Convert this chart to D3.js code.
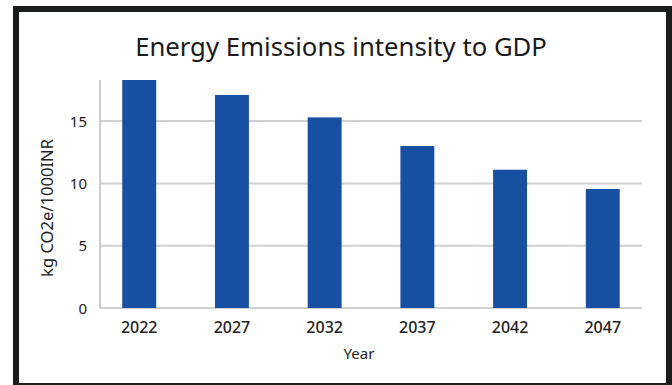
<!DOCTYPE html>
<html>
<head>
<meta charset="utf-8">
<script src="https://cdn.jsdelivr.net/npm/d3@7"></script>
<style>
  html, body { margin: 0; padding: 0; background: #fff; }
  svg { display: block; font-family: "Noto Sans", "Lato", sans-serif; }
  .grid line { stroke: #d0d0d0; stroke-width: 2; }
  .tick-label { fill: #222; }
</style>
</head>
<body>
<div id="chart"></div>
<script>
// Chart data
const years = ['2022', '2027', '2032', '2037', '2042', '2047'];
const intensity = [18.3, 17.1, 15.3, 13.0, 11.1, 9.55];
const yTicks = [0, 5, 10, 15];

const width = 672;
const height = 385;
const plot = { left: 100, right: 642, top: 80, bottom: 308 };

const svg = d3.select('#chart').append('svg')
  .attr('width', width)
  .attr('height', height);

// scale a text's font size so that it spans about the given width
function fitWidth(sel, target) {
  const node = sel.node();
  const size = parseFloat(sel.attr('font-size'));
  const len = node.getComputedTextLength();
  if (len > 0) sel.attr('font-size', (size * target / len).toFixed(2));
  return sel;
}

// Frame
svg.append('rect')
  .attr('x', 16)
  .attr('y', 9)
  .attr('width', 653)
  .attr('height', 377)
  .attr('fill', '#fff')
  .attr('stroke', '#1b1c1c')
  .attr('stroke-width', 6);

const x = d3.scaleBand()
  .domain(years)
  .range([plot.left, plot.right])
  .paddingInner(0.634)
  .paddingOuter(0.24);

const y = d3.scaleLinear()
  .domain([0, d3.max(intensity)])
  .range([plot.bottom, plot.top]);

// Gridlines
const grid = svg.append('g').attr('class', 'grid');
grid.selectAll('line')
  .data(yTicks)
  .enter()
  .append('line')
  .attr('x1', plot.left)
  .attr('x2', plot.right)
  .attr('y1', d => y(d))
  .attr('y2', d => y(d));

// Left axis line
svg.append('line')
  .attr('x1', plot.left)
  .attr('x2', plot.left)
  .attr('y1', y(d3.max(intensity)))
  .attr('y2', plot.bottom + 1)
  .attr('stroke', '#cccccc')
  .attr('stroke-width', 2);

// Bars
svg.selectAll('.bar')
  .data(intensity)
  .enter()
  .append('rect')
  .attr('class', 'bar')
  .attr('x', (d, i) => x(years[i]))
  .attr('y', d => y(d))
  .attr('width', x.bandwidth())
  .attr('height', d => y(0) - y(d))
  .attr('fill', '#1750a2');

// Y tick labels
svg.selectAll('.ylabel')
  .data(yTicks)
  .enter()
  .append('text')
  .attr('class', 'tick-label')
  .attr('x', 87)
  .attr('y', d => y(d) + 5.5)
  .attr('text-anchor', 'end')
  .attr('font-size', 15)
  .text(d => d);

// X tick labels
svg.selectAll('.xlabel')
  .data(years)
  .enter()
  .append('text')
  .attr('class', 'tick-label')
  .attr('x', d => x(d) + x.bandwidth() / 2)
  .attr('y', 333)
  .attr('text-anchor', 'middle')
  .attr('font-size', 16)
  .attr('font-weight', 500)
  .text(d => d);

// Axis titles
fitWidth(svg.append('text')
  .attr('x', 359)
  .attr('y', 359)
  .attr('text-anchor', 'middle')
  .attr('font-size', 14)
  .attr('fill', '#222')
  .text('Year'), 31);

fitWidth(svg.append('text')
  .attr('transform', 'translate(53, 208) rotate(-90)')
  .attr('text-anchor', 'middle')
  .attr('font-size', 14)
  .attr('fill', '#222')
  .text('kg CO2e/1000INR'), 138);

// Title
fitWidth(svg.append('text')
  .attr('x', 341)
  .attr('y', 56)
  .attr('text-anchor', 'middle')
  .attr('font-size', 25)
  .attr('fill', '#1a1a1a')
  .text('Energy Emissions intensity to GDP'), 412);
</script>
</body>
</html>
